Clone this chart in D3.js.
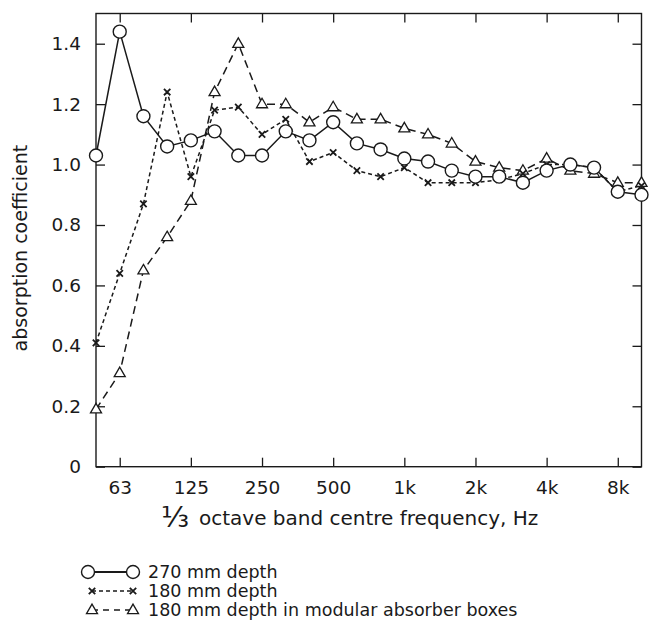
<!DOCTYPE html>
<html>
<head>
<meta charset="utf-8">
<script src="https://cdn.jsdelivr.net/npm/d3@7/dist/d3.min.js"></script>
<style>
  html, body { margin: 0; padding: 0; background: #fff; }
  svg { display: block; font-family: "DejaVu Sans", "Liberation Sans", sans-serif; }
</style>
</head>
<body>
<svg id="chart" width="651" height="628"></svg>
<script>
// One-third octave band centre frequencies (Hz)
const bands = ["50","63","80","100","125","160","200","250","315","400","500","630","800",
               "1k","1.25k","1.6k","2k","2.5k","3.15k","4k","5k","6.3k","8k","10k"];
// Octave bands that carry a tick label
const tickBands = ["63","125","250","500","1k","2k","4k","8k"];
const yTicks = [0, 0.2, 0.4, 0.6, 0.8, 1.0, 1.2, 1.4];

// Absorption coefficients per band
const depth270 = [1.03,1.44,1.16,1.06,1.08,1.11,1.03,1.03,1.11,1.08,1.14,1.07,1.05,
                  1.02,1.01,0.98,0.96,0.96,0.94,0.98,1.00,0.99,0.91,0.90];
const depth180 = [0.41,0.64,0.87,1.24,0.96,1.18,1.19,1.10,1.15,1.01,1.04,0.98,0.96,
                  0.99,0.94,0.94,0.94,0.95,0.97,1.00,1.00,0.99,0.91,0.93];
const depth180Boxes = [0.19,0.31,0.65,0.76,0.88,1.24,1.40,1.20,1.20,1.14,1.19,1.15,1.15,
                       1.12,1.10,1.07,1.01,0.99,0.98,1.02,0.98,0.97,0.94,0.94];

const legendLabels = ["270 mm depth", "180 mm depth", "180 mm depth in modular absorber boxes"];

const ink = "#1a1a1a";
const fontFamily = '"DejaVu Sans", "Liberation Sans", sans-serif';
const svg = d3.select("#chart");

const plotLeft = 96, plotRight = 641.5, plotTop = 13.5, plotBottom = 466.7;
const x = d3.scalePoint().domain(bands).range([plotLeft, plotRight]).padding(0);
const y = d3.scaleLinear().domain([0, 1.5]).range([plotBottom, plotTop]);

// Frame
svg.append("rect")
  .attr("x", plotLeft).attr("y", plotTop)
  .attr("width", plotRight - plotLeft).attr("height", plotBottom - plotTop)
  .attr("fill", "none").attr("stroke", ink).attr("stroke-width", 1.4);

// Axes with inward ticks
const tick = 9;
function styleAxis(g, showText) {
  g.select(".domain").remove();
  g.selectAll(".tick line").attr("stroke", ink).attr("stroke-width", 1.3);
  g.selectAll(".tick text")
    .attr("fill", ink)
    .style("font-size", "18.5px")
    .style("font-family", fontFamily)
    .style("display", showText ? null : "none");
}

svg.append("g").attr("transform", `translate(0,${plotBottom})`)
  .call(d3.axisBottom(x).tickValues(tickBands).tickSizeInner(-tick).tickSizeOuter(0).tickPadding(14))
  .call(g => styleAxis(g, true));
svg.append("g").attr("transform", `translate(0,${plotTop})`)
  .call(d3.axisTop(x).tickValues(tickBands).tickSizeInner(-tick).tickSizeOuter(0))
  .call(g => styleAxis(g, false));
svg.append("g").attr("transform", `translate(${plotLeft},0)`)
  .call(d3.axisLeft(y).tickValues(yTicks).tickSizeInner(-tick).tickSizeOuter(0).tickPadding(15)
        .tickFormat(d => d === 0 ? "0" : d3.format(".1f")(d)))
  .call(g => styleAxis(g, true));
svg.append("g").attr("transform", `translate(${plotRight},0)`)
  .call(d3.axisRight(y).tickValues(yTicks).tickSizeInner(-tick).tickSizeOuter(0))
  .call(g => styleAxis(g, false));

// Axis titles
svg.append("text")
  .attr("transform", `translate(27,${(plotTop + plotBottom) / 2 + 8}) rotate(-90)`)
  .attr("text-anchor", "middle")
  .attr("fill", ink)
  .style("font-size", "19px")
  .text("absorption coefficient");

svg.append("text")
  .attr("x", 161).attr("y", 527)
  .attr("fill", ink)
  .style("font-size", "29px")
  .text("\u2153");
svg.append("text")
  .attr("x", 199).attr("y", 525)
  .attr("fill", ink)
  .style("font-size", "20px")
  .text("octave band centre frequency, Hz");

// Series definitions
const series = [
  { values: depth270, dash: null, marker: "circle" },
  { values: depth180, dash: "4,3", marker: "cross" },
  { values: depth180Boxes, dash: "8,5", marker: "triangle" }
];

const line = d3.line().x(d => x(d.band)).y(d => y(d.v));

function drawMarker(g, type, cx, cy) {
  if (type === "circle") {
    g.append("circle").attr("cx", cx).attr("cy", cy).attr("r", 6.5)
      .attr("fill", "#fff").attr("stroke", ink).attr("stroke-width", 1.4);
  } else if (type === "cross") {
    const s = 3.2;
    g.append("path")
      .attr("d", `M${cx - s},${cy - s}L${cx + s},${cy + s}M${cx - s},${cy + s}L${cx + s},${cy - s}`)
      .attr("stroke", ink).attr("stroke-width", 1.8).attr("fill", "none");
  } else {
    const h = 9.5, w = 5.5;
    g.append("path")
      .attr("d", `M${cx},${cy - h * 0.62}L${cx + w},${cy + h * 0.38}L${cx - w},${cy + h * 0.38}Z`)
      .attr("fill", "#fff").attr("stroke", ink).attr("stroke-width", 1.3);
  }
}

// Lines first, then markers so open symbols sit over the lines
series.slice().reverse().forEach(s => {
  const pts = s.values.map((v, i) => ({ band: bands[i], v }));
  svg.append("path")
    .datum(pts)
    .attr("d", line)
    .attr("fill", "none")
    .attr("stroke", ink)
    .attr("stroke-width", 1.5)
    .attr("stroke-dasharray", s.dash);
});
series.slice().reverse().forEach(s => {
  const g = svg.append("g");
  s.values.forEach((v, i) => drawMarker(g, s.marker, x(bands[i]), y(v)));
});

// Legend
const legend = svg.append("g");
const rowsY = [572, 591, 610];
series.forEach((s, i) => {
  const yy = rowsY[i];
  const x0 = s.marker === "circle" ? 88 : 92, x1 = 133;
  legend.append("line")
    .attr("x1", x0).attr("x2", x1).attr("y1", yy).attr("y2", yy)
    .attr("stroke", ink).attr("stroke-width", s.marker === "circle" ? 1.8 : 1.4)
    .attr("stroke-dasharray", s.marker === "cross" ? "4,3" : s.marker === "triangle" ? "6,5" : null);
  drawMarker(legend, s.marker, x0, yy);
  drawMarker(legend, s.marker, x1, yy);
  legend.append("text")
    .attr("x", 148).attr("y", yy + 6)
    .attr("fill", ink)
    .style("font-size", "17.5px")
    .text(legendLabels[i]);
});
</script>
</body>
</html>
